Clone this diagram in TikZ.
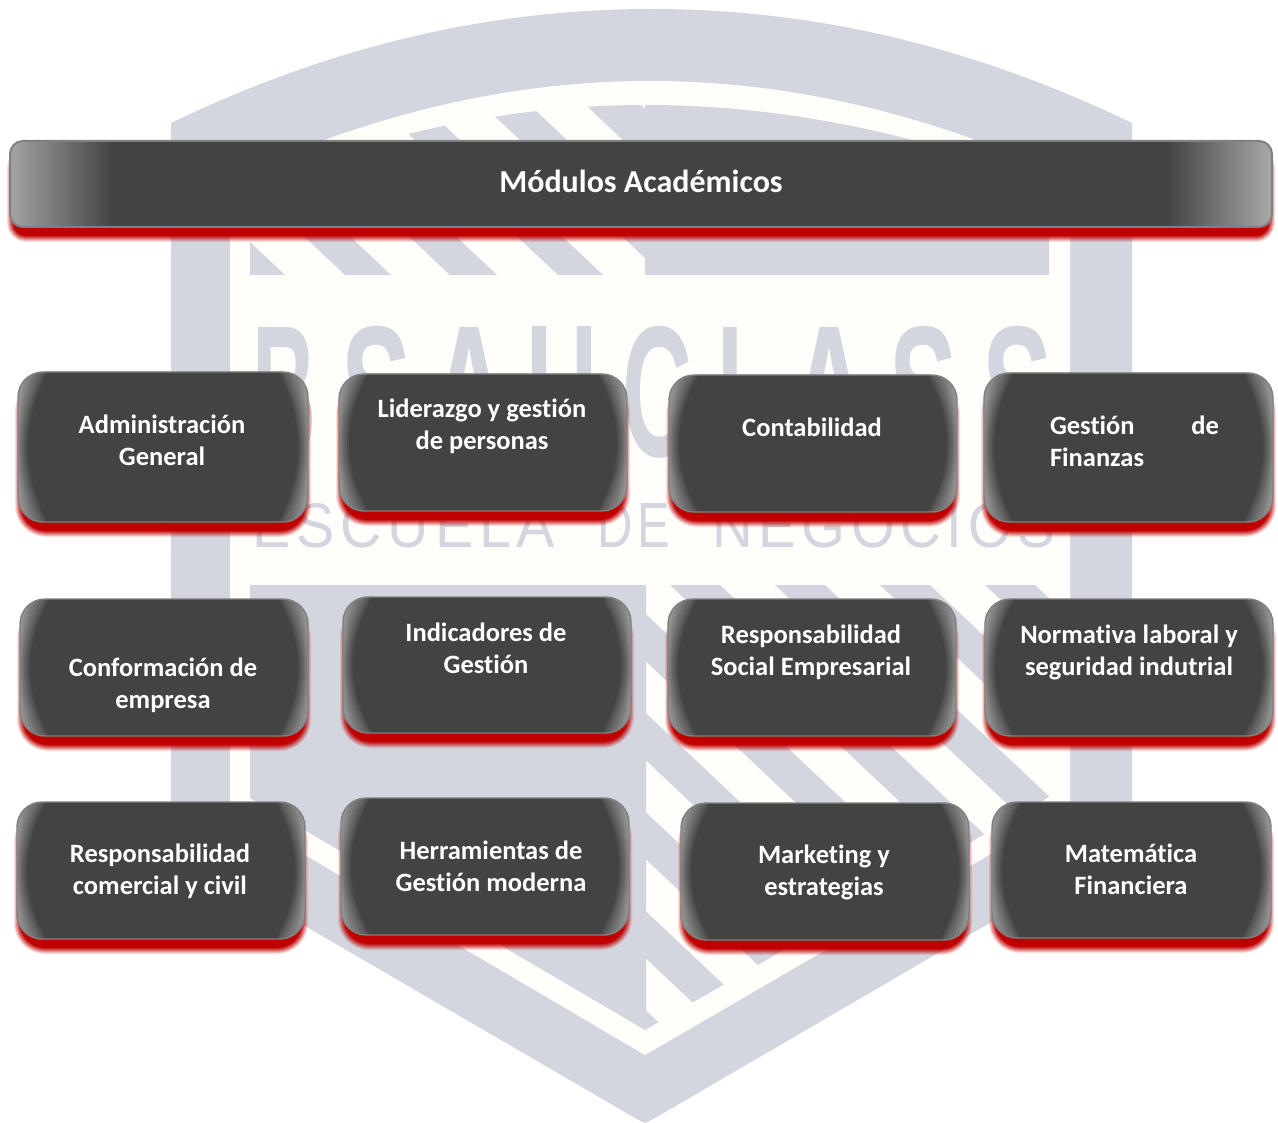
\documentclass[tikz,border=0pt]{standalone}
\usepackage{fontspec}
\setmainfont{Carlito}[Ligatures=NoCommon]
\newfontfamily\logofont{Liberation Sans}
\definecolor{shieldgrey}{HTML}{D3D6DF}
\definecolor{innerwhite}{HTML}{FFFEFB}
\definecolor{boxdark}{HTML}{434343}
\definecolor{boxedge}{HTML}{808080}
\definecolor{shadowred}{HTML}{C00000}
\definecolor{sheen}{HTML}{929292}
\tikzset{
  modlabel/.style={text=white,align=center,inner sep=0pt,font=\fontsize{26.5}{32}\selectfont\bfseries},
  titlelabel/.style={text=white,align=center,inner sep=0pt,font=\fontsize{32}{38}\selectfont\bfseries},
  modframe/.style={draw=boxedge,line width=1.4pt,rectangle,rounded corners=25pt,inner sep=0pt,fill=none},
  barframe/.style={draw=boxedge,line width=2pt,rectangle,rounded corners=13pt,inner sep=0pt,fill=none},
  logoletter/.style={text=shieldgrey,inner sep=0pt},
}
\newcommand{\redglow}[5]{% x1 y1 x2 y2 radius
  \foreach \wd/\op in {12/.12,10/.16,8/.2,6/.26,4/.34,2/.45}{
    \draw[shadowred,opacity=\op,line width=\wd pt,rounded corners=#5pt] (#1+3,#2+14) rectangle (#3-3,#4+9);
  }
  \fill[shadowred,rounded corners=#5pt] (#1+3,#2+14) rectangle (#3-3,#4+9);
}
\newcommand{\sidecurve}[6]{% x1 y1 x2 y2 a b
  \pgfmathsetmacro{\cc}{(4*#6-#5)/3}
  \pgfmathsetmacro{\hh}{(#4-#2)/3}
  \fill[boxdark,opacity=\layerop] (#1+#5,#2)
     .. controls (#1+\cc,#2+\hh) and (#1+\cc,#4-\hh) .. (#1+#5,#4)
     -- (#3-#5,#4)
     .. controls (#3-\cc,#4-\hh) and (#3-\cc,#2+\hh) .. (#3-#5,#2) -- cycle;
}
\newcommand{\modbox}[8]{% id x1 y1 x2 y2 tx ty text
  \redglow{#2}{#3}{#4}{#5}{25}
  \begin{scope}
    \clip[rounded corners=25pt] (#2,#3) rectangle (#4,#5);
    \fill[sheen] (#2,#3) rectangle (#4,#5);
    \foreach \aa/\bb/\layerop in {8/0/.12,12/1/.16,16/2.5/.2,20/4/.25,24/6/.35,27/8/.5,29/10/1}{
      \sidecurve{#2}{#3}{#4}{#5}{\aa}{\bb}
    }
  \end{scope}
  \pgfmathsetmacro{\ww}{#4-#2}
  \pgfmathsetmacro{\hw}{#5-#3}
  \node[modframe,minimum width=\ww pt,minimum height=\hw pt] (#1) at ({(#2+#4)/2},{(#3+#5)/2}) {};
  \node[modlabel] (#1label) at (#6,#7) {#8};
}
\begin{document}
\begin{tikzpicture}[x=1pt,y=-1pt]
\useasboundingbox (0,0) rectangle (1278,1123);
\fill[white] (0,0) rectangle (1278,1123);
% shield
\fill[shieldgrey] (171,123) .. controls (329,47) and (487,9) .. (651,9)
   .. controls (816,9) and (974,47) .. (1132,123)
   -- (1132,840) -- (655,1118) -- (645,1123) -- (635,1118) -- (171,848) -- cycle;
\fill[innerwhite] (230,179) .. controls (370,114) and (510,81) .. (650,81)
   .. controls (790,81) and (930,114) .. (1070,179)
   -- (1070,808) -- (645,1055) -- (230,811) -- cycle;
% upper inner block
\fill[shieldgrey] (645,105) .. controls (780,105) and (915,132) .. (1049,185)
   -- (1049,275) -- (645,275) -- cycle;
\begin{scope}
  \clip (250,185) .. controls (382,132) and (513,105) .. (646,105) -- (646,275) -- (250,275) -- cycle;
  \foreach \xl/\wg in {238/47,345/46,450/47,558/45,663/47,766/55}{
    \fill[shieldgrey] (\xl,275) -- (\xl+\wg,275) -- (\xl+\wg-212,75) -- (\xl-212,75) -- cycle;
  }
\end{scope}
% lower inner block
\fill[shieldgrey] (250,585) -- (646,585) -- (646,1030) -- (645,1030) -- (250,798) -- cycle;
\begin{scope}
  \clip (645,585) -- (1049,585) -- (1049,797) -- (645,1030) -- cycle;
  \foreach \xl in {145,250,355,460,565,670,775,880,985}{
    \fill[shieldgrey] (\xl,585) -- (\xl+50,585) -- (\xl+50+546,1100) -- (\xl+546,1100) -- cycle;
  }
\end{scope}
% watermark lettering
\foreach \id/\ch/\xa/\xb in {b1/B/253/317,b2/S/342/412,b3/A/430/510,b4/U/527/598,b5/C/623/693,b6/L/718/775,b7/A/790/870,b8/S/890/958,b9/S/983/1053}{
  \pgfmathsetmacro{\wdl}{\xb-\xa}
  \node[logoletter] (\id) at ({(\xa+\xb)/2},392) {\resizebox{\wdl pt}{130pt}{\logofont\bfseries \ch}};
}
\node[logoletter] (escuela) at (654,526) {\logofont\resizebox{302pt}{44pt}{\addfontfeature{LetterSpace=10}ESCUELA}\hspace{42pt}\resizebox{73pt}{44pt}{\addfontfeature{LetterSpace=10}DE}\hspace{42pt}\resizebox{343pt}{44pt}{\addfontfeature{LetterSpace=10}NEGOCIOS}};
% title bar
\redglow{10}{141}{1272}{227}{13}
\begin{scope}
  \clip[rounded corners=13pt] (10,141) rectangle (1272,227);
  \fill[boxdark] (10,141) rectangle (1272,227);
  \shade[left color=black!36,right color=boxdark] (10,141) rectangle (113,227);
  \shade[left color=boxdark,right color=black!34] (1167,141) rectangle (1272,227);
\end{scope}
\node[barframe,minimum width=1262pt,minimum height=86pt] (bar) at (641,184) {};
\node[titlelabel] (barlabel) at (641,181) {Módulos Académicos};
% module boxes
\modbox{m1}{18}{372}{308}{522}{162}{440}{Administración\\General}
\modbox{m2}{339}{374}{627}{511}{482}{426}{Liderazgo y gestión\\de personas}
\modbox{m3}{669}{375}{957}{512}{812}{427}{Contabilidad}
\modbox{m4}{984}{373}{1273}{522}{1134.5}{441.5}{\makebox[169pt][l]{Gestión\hfill de}\\\makebox[169pt][l]{Finanzas}}
\modbox{m5}{20}{599}{308}{736}{163}{685}{Conformación de\\empresa}
\modbox{m6}{343}{597}{631}{733}{486}{648}{Indicadores de\\Gestión}
\modbox{m7}{668}{599}{956}{736}{811}{652}{Responsabilidad\\Social Empresarial}
\modbox{m8}{985}{599}{1273}{736}{1129}{652}{Normativa laboral y\\seguridad indutrial}
\modbox{m9}{17}{802}{305}{939}{160}{871}{Responsabilidad\\comercial y civil}
\modbox{m10}{341}{798}{629}{935}{491}{866}{Herramientas de\\Gestión moderna}
\modbox{m11}{681}{803}{969}{940}{824}{872}{Marketing y\\estrategias}
\modbox{m12}{992}{802}{1271}{938}{1131}{869}{Matemática\\Financiera}
\end{tikzpicture}
\end{document}
